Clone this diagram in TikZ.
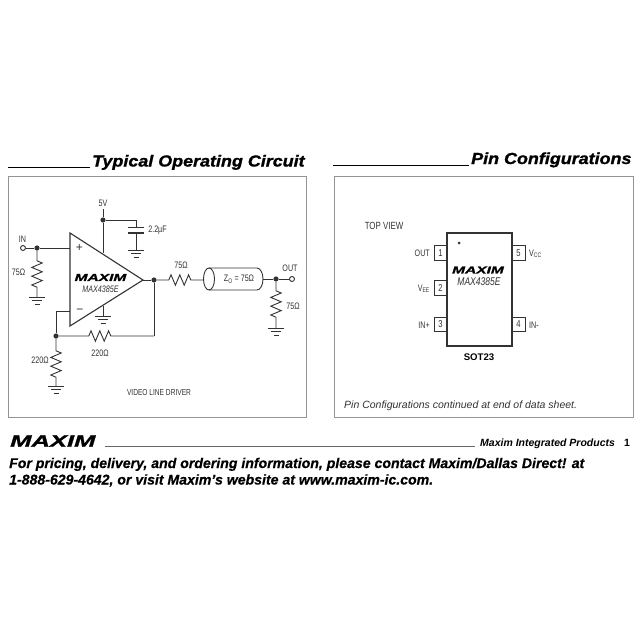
\documentclass[tikz,border=0pt]{standalone}
\usepackage{fontspec}
\setmainfont{Liberation Sans}
\newfontfamily\cond[FakeStretch=0.76]{Liberation Sans}
\newfontfamily\wide[FakeStretch=1.55,BoldItalicFeatures={FakeBold=1.5}]{Liberation Sans}
\newfontfamily\headf[FakeStretch=1.12,BoldItalicFeatures={FakeBold=1.2}]{Liberation Sans}
\newfontfamily\footf[FakeStretch=1.0,BoldItalicFeatures={FakeBold=0.5}]{Liberation Sans}
\usetikzlibrary{decorations.pathmorphing,shapes.geometric}
\definecolor{ink}{gray}{0.2}
\tikzset{
  x=1pt,y=-1pt,
  wire/.style={draw=ink,line width=0.9pt},
  frame/.style={draw=black!42,line width=0.9pt},
  rule/.style={draw=black!60,line width=0.9pt},
  res/.style 2 args={wire,line join=miter,decorate,decoration={zigzag,amplitude=5.2pt,segment length=8.8pt,pre length=#1,post length=#2}},
  dotn/.style={circle,fill=ink,inner sep=0pt,minimum size=5.2pt},
  term/.style={circle,draw=ink,fill=white,line width=0.9pt,inner sep=0pt,minimum size=5pt},
  lab/.style={inner sep=0pt,text=ink,font=\cond\fontsize{9.4}{10}\selectfont},
  head/.style={inner sep=0pt,anchor=base west,font=\headf\bfseries\itshape\fontsize{16}{18}\selectfont},
  logo/.style={inner sep=0pt,font=\wide\bfseries\itshape\fontsize{#1}{#1}\selectfont},
  gnd/.pic={
    \draw[wire] (-8,0)--(8,0) (-5,3.7)--(5,3.7) (-2.5,7.4)--(2.5,7.4);
  },
  pinbox/.style={draw=ink,line width=0.8pt,minimum width=13pt,minimum height=14.5pt,inner sep=0pt,text=ink,font=\cond\fontsize{10}{10}\selectfont},
}
\begin{document}
\begin{tikzpicture}
\useasboundingbox (0,0) rectangle (640,640);
\fill[white] (0,0) rectangle (640,640);
% headings
\node[head] (h1) at (92,166.5) {Typical Operating Circuit};
\node[head] (h2) at (471,164) {Pin Configurations};
\coordinate (r1a) at (8,167); \coordinate (r1b) at (90,167);
\coordinate (r2a) at (333,165.5); \coordinate (r2b) at (469,165.5);
\draw[rule,black] (r1a)--(r1b) (r2a)--(r2b);
% frames
\node[frame,rectangle,minimum width=298pt,minimum height=241pt,inner sep=0pt] (boxL) at (157,296.5) {};
\node[frame,rectangle,minimum width=299pt,minimum height=241pt,inner sep=0pt] (boxR) at (483.5,296.5) {};
% op amp
\coordinate (oT) at (70,233); \coordinate (oB) at (70,326); \coordinate (oO) at (143,280);
\coordinate (oP) at (70,248); \coordinate (oN) at (70,311);
\coordinate (oV) at (103,253); \coordinate (oG) at (103,306);
\draw[wire,line width=1.1pt,line join=miter] (oT)--(oO)--(oB)--cycle;
\node[lab,font=\fontsize{12}{12}\selectfont] (plus) at (79.5,248) {+};
\node[lab,font=\fontsize{12}{12}\selectfont] (minus) at (80,311) {\textminus};
\node[logo=10] (logo1) at (100.5,277.5) {MAXIM};
\node[lab,font=\cond\itshape\fontsize{9.4}{10}\selectfont] (part1) at (100.5,289.5) {MAX4385E};
% input
\node[term] (in) at (23,248) {};
\node[dotn] (dIn) at (37,248) {};
\node[lab] (inl) at (22.5,239) {IN};
\draw[wire] (in)--(dIn)--(oP);
\coordinate (g1) at (37,297);
\draw[res={10pt}{8pt}] (dIn)--(g1);
\pic at (g1) {gnd};
\node[lab] (r1l) at (18.5,272) {75Ω};
% supply
\node[lab] (v5) at (103,203) {5V};
\coordinate (v5b) at (103,209);
\node[dotn] (dV) at (103,220) {};
\draw[wire] (v5b)--(dV)--(oV);
\coordinate (cT) at (136,220); \coordinate (c1) at (136,227.5); \coordinate (c2) at (136,233); \coordinate (g2) at (136,250);
\draw[wire] (dV)--(cT)--(c1) (c2)--(g2);
\draw[wire,line width=1.1pt] (128,227.5)--(144,227.5) (128,233)--(144,233);
\pic at (g2) {gnd};
\node[lab] (cl) at (157.5,230) {2.2µF};
% op amp ground
\coordinate (g3) at (103,316);
\draw[wire] (oG)--(g3);
\pic at (g3) {gnd};
% feedback
\node[dotn] (dO) at (154,280) {};
\node[dotn] (dF) at (56,336) {};
\coordinate (nL) at (56,311); \coordinate (fR) at (154,336);
\draw[wire] (oO)--(dO)--(fR);
\draw[wire] (oN)--(nL)--(dF);
\draw[res={30pt}{40pt}] (dF)--(fR);
\node[lab] (r2l) at (100,353) {220Ω};
\coordinate (g4) at (56,386);
\draw[res={12pt}{7pt}] (dF)--(g4);
\pic at (g4) {gnd};
\node[lab] (r3l) at (40,360.5) {220Ω};
\node[lab,font=\cond\fontsize{8.7}{10}\selectfont] (cap) at (159,392) {VIDEO LINE DRIVER};
% output
\coordinate (cabL) at (204,280);
\draw[res={12pt}{9pt}] (dO)--(cabL);
\node[lab] (r4l) at (181,265) {75Ω};
\draw[wire] (209,268) -- (257,268) arc[start angle=90,end angle=-90,x radius=6,y radius=-11] -- (209,290);
\node[wire,ellipse,minimum width=11pt,minimum height=22pt,inner sep=0pt] (cabE) at (209,279) {};
\node[lab] (zl) at (239,279) {Z\textsubscript{O} = 75Ω};
\coordinate (cabR) at (263,279);
\node[dotn] (dOut) at (276,279) {};
\node[term] (out) at (292,279) {};
\draw[wire] (cabR)--(dOut)--(out);
\node[lab] (outl) at (290,268) {OUT};
\coordinate (g5) at (276,328);
\draw[res={9pt}{10pt}] (dOut)--(g5);
\pic at (g5) {gnd};
\node[lab] (r5l) at (293,306) {75Ω};
% package
\node[lab,font=\cond\fontsize{10.4}{10}\selectfont] (tv) at (384,226) {TOP VIEW};
\node[draw=ink,line width=1.2pt,rectangle,minimum width=65pt,minimum height=113pt,inner sep=0pt] (ic) at (479.5,289.5) {};
\node[circle,fill=ink,inner sep=0pt,minimum size=3pt] (pin1) at (459,243) {};
\node[pinbox] (p1) at (440.5,253) {1};
\node[pinbox] (p2) at (440.5,288) {2};
\node[pinbox] (p3) at (440.5,324.5) {3};
\node[pinbox] (p5) at (518.5,253) {5};
\node[pinbox] (p4) at (518.5,324.5) {4};
\node[lab,anchor=east] (l1) at (430,253) {OUT};
\node[lab,anchor=east] (l2) at (430,289) {V\textsubscript{EE}};
\node[lab,anchor=east] (l3) at (430,325) {IN+};
\node[lab,anchor=west] (l5) at (529,254) {V\textsubscript{CC}};
\node[lab,anchor=west] (l4) at (529,325) {IN-};
\node[logo=10] (logo2) at (478,270) {MAXIM};
\node[lab,font=\cond\itshape\fontsize{11.2}{10}\selectfont] (part2) at (479,281.5) {MAX4385E};
\node[inner sep=0pt,font=\bfseries\fontsize{9.6}{10}\selectfont] (sot) at (479,357.5) {SOT23};
\node[lab,font=\itshape\fontsize{10.5}{10}\selectfont,anchor=base west] (note) at (344,408) {Pin Configurations continued at end of data sheet.};
% footer
\node[logo=16.5,anchor=west] (logo3) at (10,441) {MAXIM};
\coordinate (fa) at (105,446.5); \coordinate (fb) at (475,446.5);
\draw[rule] (fa)--(fb);
\node[inner sep=0pt,anchor=base west,font=\bfseries\itshape\fontsize{10.5}{11}\selectfont] (mip) at (480,446) {Maxim Integrated Products};
\node[inner sep=0pt,anchor=base,font=\bfseries\fontsize{10.5}{11}\selectfont] (pg) at (627,446) {1};
\node[inner sep=0pt,anchor=base west,font=\footf\bfseries\itshape\fontsize{14.1}{16}\selectfont] (f1) at (9,468) {For pricing, delivery, and ordering information, please contact Maxim/Dallas Direct! at};
\node[inner sep=0pt,anchor=base west,font=\footf\bfseries\itshape\fontsize{14.1}{16}\selectfont] (f2) at (9,484.5) {1-888-629-4642, or visit Maxim’s website at www.maxim-ic.com.};
\end{tikzpicture}
\end{document}
